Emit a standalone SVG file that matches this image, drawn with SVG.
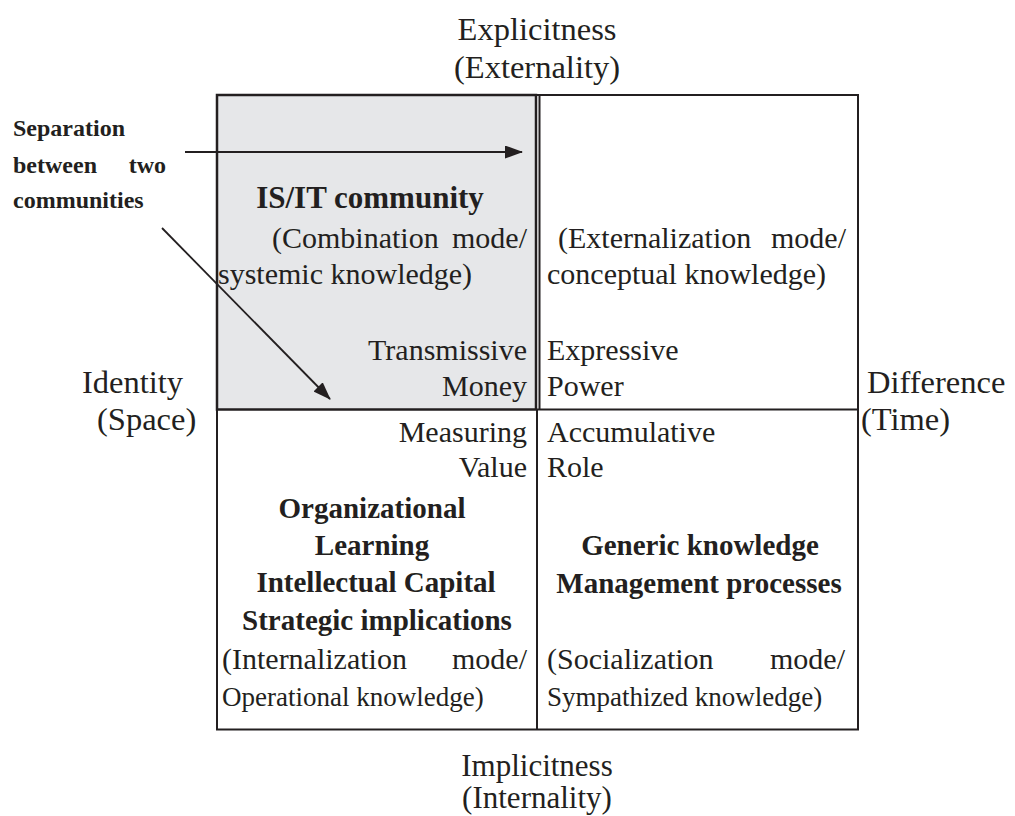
<svg xmlns="http://www.w3.org/2000/svg" width="1015" height="816" viewBox="0 0 1015 816">
  <style>
    text { font-family: "Liberation Serif", "Times New Roman", serif; fill: #231f20; }
    .axis { font-size: 32.5px; }
    .axis-low { font-size: 31px; }
    .cell { font-size: 30px; }
    .small { font-size: 27px; }
    .bold { font-size: 29px; font-weight: bold; }
    .title { font-size: 31px; font-weight: bold; }
    .note { font-size: 24px; font-weight: bold; }
    .mid { text-anchor: middle; }
    .end { text-anchor: end; }
    .frame { fill: none; stroke: #231f20; stroke-width: 2; }
    .rule { stroke: #231f20; stroke-width: 2; fill: none; }
    .conn { stroke: #231f20; stroke-width: 1.8; fill: none; }
  </style>
  <defs>
    <marker id="head" viewBox="0 0 18 13" refX="17" refY="6.5" markerWidth="18" markerHeight="13" markerUnits="userSpaceOnUse" orient="auto">
      <path d="M0,0 L18,6.5 L0,13 Z" fill="#231f20"/>
    </marker>
  </defs>

  <rect width="1015" height="816" fill="#ffffff"/>

  <!-- axis labels -->
  <g id="axis-top">
    <text class="axis mid" x="537" y="40">Explicitness</text>
    <text class="axis mid" x="537" y="78">(Externality)</text>
  </g>
  <g id="axis-bottom">
    <text class="axis-low mid" x="537" y="776">Implicitness</text>
    <text class="axis-low mid" x="537" y="808">(Internality)</text>
  </g>
  <g id="axis-left">
    <text class="axis" x="82" y="393">Identity</text>
    <text class="axis" x="97" y="430">(Space)</text>
  </g>
  <g id="axis-right">
    <text class="axis" x="867" y="393">Difference</text>
    <text class="axis" x="861" y="430">(Time)</text>
  </g>

  <!-- quadrant frame -->
  <g id="frame">
    <rect class="frame" x="217" y="95" width="641" height="634.5"/>
    <line class="rule" x1="539.5" y1="95" x2="539.5" y2="409.5"/>
    <line class="rule" x1="537" y1="409.5" x2="537" y2="729.5"/>
    <line class="rule" x1="537" y1="409.5" x2="858" y2="409.5"/>
  </g>

  <!-- upper left quadrant: IS/IT community -->
  <g id="q-combination">
    <rect x="217" y="95" width="319" height="314.5" fill="#e6e7e9" stroke="#231f20" stroke-width="2.5"/>
    <text class="title mid" x="370" y="208">IS/IT community</text>
    <text class="cell" x="272" y="248">(Combination</text>
    <text class="cell end" x="527" y="248">mode/</text>
    <text class="cell" x="218" y="284">systemic knowledge)</text>
    <text class="cell end" x="527" y="360">Transmissive</text>
    <text class="cell end" x="527" y="396">Money</text>
  </g>

  <!-- upper right quadrant -->
  <g id="q-externalization">
    <text class="cell" x="558" y="248">(Externalization</text>
    <text class="cell end" x="846" y="248">mode/</text>
    <text class="cell" x="547" y="284">conceptual knowledge)</text>
    <text class="cell" x="547" y="360">Expressive</text>
    <text class="cell" x="547" y="396">Power</text>
  </g>

  <!-- lower left quadrant -->
  <g id="q-internalization">
    <text class="cell end" x="527" y="442">Measuring</text>
    <text class="cell end" x="527" y="477">Value</text>
    <text class="bold mid" x="372" y="518">Organizational</text>
    <text class="bold mid" x="372" y="555">Learning</text>
    <text class="bold mid" x="376" y="592">Intellectual Capital</text>
    <text class="bold mid" x="377" y="630">Strategic implications</text>
    <text class="cell" x="222" y="669">(Internalization</text>
    <text class="cell end" x="527" y="669">mode/</text>
    <text class="small" x="222" y="706">Operational knowledge)</text>
  </g>

  <!-- lower right quadrant -->
  <g id="q-socialization">
    <text class="cell" x="547" y="442">Accumulative</text>
    <text class="cell" x="547" y="477">Role</text>
    <text class="bold mid" x="700" y="555">Generic knowledge</text>
    <text class="bold mid" x="699" y="593">Management processes</text>
    <text class="cell" x="547" y="669">(Socialization</text>
    <text class="cell end" x="845" y="669">mode/</text>
    <text class="small" x="547" y="706">Sympathized knowledge)</text>
  </g>

  <!-- side note -->
  <g id="note">
    <text class="note" x="13" y="136">Separation</text>
    <text class="note" x="13" y="173">between</text>
    <text class="note end" x="166" y="173">two</text>
    <text class="note" x="13" y="208">communities</text>
  </g>

  <!-- connectors -->
  <g id="connectors">
    <line class="conn" x1="185" y1="152" x2="522" y2="152" marker-end="url(#head)"/>
    <line class="conn" x1="162" y1="228" x2="330" y2="399" marker-end="url(#head)"/>
  </g>
</svg>
